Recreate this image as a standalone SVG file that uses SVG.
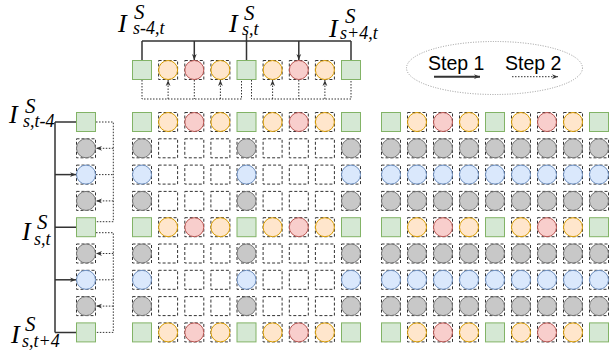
<svg xmlns="http://www.w3.org/2000/svg" xmlns:xlink="http://www.w3.org/1999/xlink" width="610" height="354" viewBox="0 0 610 354">
<style>
.g{fill:#d5e8d4;stroke:#82b366;stroke-width:1}
.o{fill:#ffe6cc;stroke:#d79b00;stroke-width:1}
.r{fill:#f8cecc;stroke:#b85450;stroke-width:1}
.b{fill:#dae8fc;stroke:#6c8ebf;stroke-width:1}
.k{fill:#c8c8c8;stroke:#777777;stroke-width:1}
.d{fill:none;stroke:#333333;stroke-width:1;stroke-dasharray:3 2}
.s{fill:none;stroke:#333333;stroke-width:1.5}
.t{fill:none;stroke:#333333;stroke-width:1;stroke-dasharray:1.5 1.5}
.lab{font-family:"Liberation Serif","Times New Roman",serif;font-style:italic;fill:#000}
.I{font-size:26px}
.S{font-size:21px}
.u{font-size:18px}
.lg{font-family:"Liberation Sans",Arial,sans-serif;font-size:19.5px;fill:#000}
</style>
<defs>
<marker id="a" viewBox="0 0 10 10" refX="10" refY="5" markerWidth="6" markerHeight="6" markerUnits="userSpaceOnUse" orient="auto"><path d="M0,1 L10,5 L0,9 L3,5 z" fill="#333333"/></marker>
<g id="G"><rect class="g" x="0.5" y="0.5" width="19" height="19"/></g>
<g id="O"><rect class="d" x="0.5" y="0.5" width="19" height="19"/><circle class="o" cx="10" cy="10" r="9.5"/></g>
<g id="R"><rect class="d" x="0.5" y="0.5" width="19" height="19"/><circle class="r" cx="10" cy="10" r="9.5"/></g>
<g id="B"><rect class="d" x="0.5" y="0.5" width="19" height="19"/><circle class="b" cx="10" cy="10" r="9.5"/></g>
<g id="K"><rect class="d" x="0.5" y="0.5" width="19" height="19"/><circle class="k" cx="10" cy="10" r="9.5"/></g>
<g id="E"><rect class="d" x="0.5" y="0.5" width="19" height="19"/></g>
</defs>
<rect width="610" height="354" fill="#ffffff"/>

<g id="connectors">
<path class="s" d="M142,41 H351 M142,41 V60 M246.5,34 V60 M351,41 V60"/>
<path class="s" d="M194.3,41 V60" marker-end="url(#a)"/>
<path class="s" d="M298.8,41 V60" marker-end="url(#a)"/>
<path class="t" d="M142,80 V99 H241.5 V80 M251.5,80 V99 H351 V80 M194.3,80 V99 M298.8,80 V99"/>
<path class="t" d="M168.1,99 V80" marker-end="url(#a)"/>
<path class="t" d="M220.4,99 V80" marker-end="url(#a)"/>
<path class="t" d="M272.6,99 V80" marker-end="url(#a)"/>
<path class="t" d="M324.9,99 V80" marker-end="url(#a)"/>
<path class="s" d="M55,122 V332.4 M55,122 H76 M55,227.2 H76 M55,332.4 H76"/>
<path class="s" d="M55,174.6 H76" marker-end="url(#a)"/>
<path class="s" d="M55,279.8 H76" marker-end="url(#a)"/>
<path class="t" d="M96,122 H113.3 V221.7 H96 M96,232.7 H113.3 V332.4 H96 M96,174.6 H113.3 M96,279.8 H113.3"/>
<path class="t" d="M113.3,148.3 H96" marker-end="url(#a)"/>
<path class="t" d="M113.3,200.9 H96" marker-end="url(#a)"/>
<path class="t" d="M113.3,253.5 H96" marker-end="url(#a)"/>
<path class="t" d="M113.3,306.1 H96" marker-end="url(#a)"/>
</g>

<g id="labels">
<text class="lab"><tspan class="I" x="118" y="32">I</tspan><tspan class="S" x="134" y="19">S</tspan><tspan class="u" x="133" y="34">s-4,t</tspan></text>
<text class="lab"><tspan class="I" x="229" y="32">I</tspan><tspan class="S" x="244" y="20">S</tspan><tspan class="u" x="242" y="35">s,t</tspan></text>
<text class="lab"><tspan class="I" x="329" y="37">I</tspan><tspan class="S" x="345" y="23">S</tspan><tspan class="u" x="340" y="39">s+4,t</tspan></text>
<text class="lab"><tspan class="I" x="9" y="123">I</tspan><tspan class="S" x="25" y="113">S</tspan><tspan class="u" x="23" y="127">s,t-4</tspan></text>
<text class="lab"><tspan class="I" x="22" y="240">I</tspan><tspan class="S" x="37" y="229">S</tspan><tspan class="u" x="34" y="245">s,t</tspan></text>
<text class="lab"><tspan class="I" x="11" y="343">I</tspan><tspan class="S" x="25" y="331">S</tspan><tspan class="u" x="22" y="347">s,t+4</tspan></text>
</g>

<g id="legend">
<ellipse cx="494.5" cy="68" rx="88" ry="26.5" fill="none" stroke="#999999" stroke-width="1" stroke-dasharray="1 1.5"/>
<text class="lg" x="428" y="69.5">Step 1</text>
<text class="lg" x="505" y="69.5">Step 2</text>
<path d="M434,76.7 H480" stroke="#333333" stroke-width="2" fill="none" marker-end="url(#a)"/>
<path d="M512,76.7 H558" class="t" marker-end="url(#a)"/>
</g>

<g id="top-row">
<g id="t0"><use xlink:href="#G" x="132" y="60"/></g>
<g id="t1"><use xlink:href="#O" x="158.1" y="60"/></g>
<g id="t2"><use xlink:href="#R" x="184.3" y="60"/></g>
<g id="t3"><use xlink:href="#O" x="210.4" y="60"/></g>
<g id="t4"><use xlink:href="#G" x="236.5" y="60"/></g>
<g id="t5"><use xlink:href="#O" x="262.6" y="60"/></g>
<g id="t6"><use xlink:href="#R" x="288.8" y="60"/></g>
<g id="t7"><use xlink:href="#O" x="314.9" y="60"/></g>
<g id="t8"><use xlink:href="#G" x="341" y="60"/></g>
</g>

<g id="left-col">
<g id="l0"><use xlink:href="#G" x="76" y="112"/></g>
<g id="l1"><use xlink:href="#K" x="76" y="138.3"/></g>
<g id="l2"><use xlink:href="#B" x="76" y="164.6"/></g>
<g id="l3"><use xlink:href="#K" x="76" y="190.9"/></g>
<g id="l4"><use xlink:href="#G" x="76" y="217.2"/></g>
<g id="l5"><use xlink:href="#K" x="76" y="243.5"/></g>
<g id="l6"><use xlink:href="#B" x="76" y="269.8"/></g>
<g id="l7"><use xlink:href="#K" x="76" y="296.1"/></g>
<g id="l8"><use xlink:href="#G" x="76" y="322.4"/></g>
</g>

<g id="mid-grid">
<g id="m00"><use xlink:href="#G" x="132" y="112"/></g><g id="m01"><use xlink:href="#O" x="158.1" y="112"/></g><g id="m02"><use xlink:href="#R" x="184.3" y="112"/></g><g id="m03"><use xlink:href="#O" x="210.4" y="112"/></g><g id="m04"><use xlink:href="#G" x="236.5" y="112"/></g><g id="m05"><use xlink:href="#O" x="262.6" y="112"/></g><g id="m06"><use xlink:href="#R" x="288.8" y="112"/></g><g id="m07"><use xlink:href="#O" x="314.9" y="112"/></g><g id="m08"><use xlink:href="#G" x="341" y="112"/></g>
<g id="m10"><use xlink:href="#K" x="132" y="138.3"/></g><g id="m11"><use xlink:href="#E" x="158.1" y="138.3"/></g><g id="m12"><use xlink:href="#E" x="184.3" y="138.3"/></g><g id="m13"><use xlink:href="#E" x="210.4" y="138.3"/></g><g id="m14"><use xlink:href="#K" x="236.5" y="138.3"/></g><g id="m15"><use xlink:href="#E" x="262.6" y="138.3"/></g><g id="m16"><use xlink:href="#E" x="288.8" y="138.3"/></g><g id="m17"><use xlink:href="#E" x="314.9" y="138.3"/></g><g id="m18"><use xlink:href="#K" x="341" y="138.3"/></g>
<g id="m20"><use xlink:href="#B" x="132" y="164.6"/></g><g id="m21"><use xlink:href="#E" x="158.1" y="164.6"/></g><g id="m22"><use xlink:href="#E" x="184.3" y="164.6"/></g><g id="m23"><use xlink:href="#E" x="210.4" y="164.6"/></g><g id="m24"><use xlink:href="#B" x="236.5" y="164.6"/></g><g id="m25"><use xlink:href="#E" x="262.6" y="164.6"/></g><g id="m26"><use xlink:href="#E" x="288.8" y="164.6"/></g><g id="m27"><use xlink:href="#E" x="314.9" y="164.6"/></g><g id="m28"><use xlink:href="#B" x="341" y="164.6"/></g>
<g id="m30"><use xlink:href="#K" x="132" y="190.9"/></g><g id="m31"><use xlink:href="#E" x="158.1" y="190.9"/></g><g id="m32"><use xlink:href="#E" x="184.3" y="190.9"/></g><g id="m33"><use xlink:href="#E" x="210.4" y="190.9"/></g><g id="m34"><use xlink:href="#K" x="236.5" y="190.9"/></g><g id="m35"><use xlink:href="#E" x="262.6" y="190.9"/></g><g id="m36"><use xlink:href="#E" x="288.8" y="190.9"/></g><g id="m37"><use xlink:href="#E" x="314.9" y="190.9"/></g><g id="m38"><use xlink:href="#K" x="341" y="190.9"/></g>
<g id="m40"><use xlink:href="#G" x="132" y="217.2"/></g><g id="m41"><use xlink:href="#O" x="158.1" y="217.2"/></g><g id="m42"><use xlink:href="#R" x="184.3" y="217.2"/></g><g id="m43"><use xlink:href="#O" x="210.4" y="217.2"/></g><g id="m44"><use xlink:href="#G" x="236.5" y="217.2"/></g><g id="m45"><use xlink:href="#O" x="262.6" y="217.2"/></g><g id="m46"><use xlink:href="#R" x="288.8" y="217.2"/></g><g id="m47"><use xlink:href="#O" x="314.9" y="217.2"/></g><g id="m48"><use xlink:href="#G" x="341" y="217.2"/></g>
<g id="m50"><use xlink:href="#K" x="132" y="243.5"/></g><g id="m51"><use xlink:href="#E" x="158.1" y="243.5"/></g><g id="m52"><use xlink:href="#E" x="184.3" y="243.5"/></g><g id="m53"><use xlink:href="#E" x="210.4" y="243.5"/></g><g id="m54"><use xlink:href="#K" x="236.5" y="243.5"/></g><g id="m55"><use xlink:href="#E" x="262.6" y="243.5"/></g><g id="m56"><use xlink:href="#E" x="288.8" y="243.5"/></g><g id="m57"><use xlink:href="#E" x="314.9" y="243.5"/></g><g id="m58"><use xlink:href="#K" x="341" y="243.5"/></g>
<g id="m60"><use xlink:href="#B" x="132" y="269.8"/></g><g id="m61"><use xlink:href="#E" x="158.1" y="269.8"/></g><g id="m62"><use xlink:href="#E" x="184.3" y="269.8"/></g><g id="m63"><use xlink:href="#E" x="210.4" y="269.8"/></g><g id="m64"><use xlink:href="#B" x="236.5" y="269.8"/></g><g id="m65"><use xlink:href="#E" x="262.6" y="269.8"/></g><g id="m66"><use xlink:href="#E" x="288.8" y="269.8"/></g><g id="m67"><use xlink:href="#E" x="314.9" y="269.8"/></g><g id="m68"><use xlink:href="#B" x="341" y="269.8"/></g>
<g id="m70"><use xlink:href="#K" x="132" y="296.1"/></g><g id="m71"><use xlink:href="#E" x="158.1" y="296.1"/></g><g id="m72"><use xlink:href="#E" x="184.3" y="296.1"/></g><g id="m73"><use xlink:href="#E" x="210.4" y="296.1"/></g><g id="m74"><use xlink:href="#K" x="236.5" y="296.1"/></g><g id="m75"><use xlink:href="#E" x="262.6" y="296.1"/></g><g id="m76"><use xlink:href="#E" x="288.8" y="296.1"/></g><g id="m77"><use xlink:href="#E" x="314.9" y="296.1"/></g><g id="m78"><use xlink:href="#K" x="341" y="296.1"/></g>
<g id="m80"><use xlink:href="#G" x="132" y="322.4"/></g><g id="m81"><use xlink:href="#O" x="158.1" y="322.4"/></g><g id="m82"><use xlink:href="#R" x="184.3" y="322.4"/></g><g id="m83"><use xlink:href="#O" x="210.4" y="322.4"/></g><g id="m84"><use xlink:href="#G" x="236.5" y="322.4"/></g><g id="m85"><use xlink:href="#O" x="262.6" y="322.4"/></g><g id="m86"><use xlink:href="#R" x="288.8" y="322.4"/></g><g id="m87"><use xlink:href="#O" x="314.9" y="322.4"/></g><g id="m88"><use xlink:href="#G" x="341" y="322.4"/></g>
</g>

<g id="right-grid">
<g id="r00"><use xlink:href="#G" x="381" y="112"/></g><g id="r01"><use xlink:href="#O" x="407" y="112"/></g><g id="r02"><use xlink:href="#R" x="433" y="112"/></g><g id="r03"><use xlink:href="#O" x="459" y="112"/></g><g id="r04"><use xlink:href="#G" x="485" y="112"/></g><g id="r05"><use xlink:href="#O" x="511" y="112"/></g><g id="r06"><use xlink:href="#R" x="537" y="112"/></g><g id="r07"><use xlink:href="#O" x="563" y="112"/></g><g id="r08"><use xlink:href="#G" x="589" y="112"/></g>
<g id="r10"><use xlink:href="#K" x="381" y="138.3"/></g><g id="r11"><use xlink:href="#K" x="407" y="138.3"/></g><g id="r12"><use xlink:href="#K" x="433" y="138.3"/></g><g id="r13"><use xlink:href="#K" x="459" y="138.3"/></g><g id="r14"><use xlink:href="#K" x="485" y="138.3"/></g><g id="r15"><use xlink:href="#K" x="511" y="138.3"/></g><g id="r16"><use xlink:href="#K" x="537" y="138.3"/></g><g id="r17"><use xlink:href="#K" x="563" y="138.3"/></g><g id="r18"><use xlink:href="#K" x="589" y="138.3"/></g>
<g id="r20"><use xlink:href="#B" x="381" y="164.6"/></g><g id="r21"><use xlink:href="#B" x="407" y="164.6"/></g><g id="r22"><use xlink:href="#B" x="433" y="164.6"/></g><g id="r23"><use xlink:href="#B" x="459" y="164.6"/></g><g id="r24"><use xlink:href="#B" x="485" y="164.6"/></g><g id="r25"><use xlink:href="#B" x="511" y="164.6"/></g><g id="r26"><use xlink:href="#B" x="537" y="164.6"/></g><g id="r27"><use xlink:href="#B" x="563" y="164.6"/></g><g id="r28"><use xlink:href="#B" x="589" y="164.6"/></g>
<g id="r30"><use xlink:href="#K" x="381" y="190.9"/></g><g id="r31"><use xlink:href="#K" x="407" y="190.9"/></g><g id="r32"><use xlink:href="#K" x="433" y="190.9"/></g><g id="r33"><use xlink:href="#K" x="459" y="190.9"/></g><g id="r34"><use xlink:href="#K" x="485" y="190.9"/></g><g id="r35"><use xlink:href="#K" x="511" y="190.9"/></g><g id="r36"><use xlink:href="#K" x="537" y="190.9"/></g><g id="r37"><use xlink:href="#K" x="563" y="190.9"/></g><g id="r38"><use xlink:href="#K" x="589" y="190.9"/></g>
<g id="r40"><use xlink:href="#G" x="381" y="217.2"/></g><g id="r41"><use xlink:href="#O" x="407" y="217.2"/></g><g id="r42"><use xlink:href="#R" x="433" y="217.2"/></g><g id="r43"><use xlink:href="#O" x="459" y="217.2"/></g><g id="r44"><use xlink:href="#G" x="485" y="217.2"/></g><g id="r45"><use xlink:href="#O" x="511" y="217.2"/></g><g id="r46"><use xlink:href="#R" x="537" y="217.2"/></g><g id="r47"><use xlink:href="#O" x="563" y="217.2"/></g><g id="r48"><use xlink:href="#G" x="589" y="217.2"/></g>
<g id="r50"><use xlink:href="#K" x="381" y="243.5"/></g><g id="r51"><use xlink:href="#K" x="407" y="243.5"/></g><g id="r52"><use xlink:href="#K" x="433" y="243.5"/></g><g id="r53"><use xlink:href="#K" x="459" y="243.5"/></g><g id="r54"><use xlink:href="#K" x="485" y="243.5"/></g><g id="r55"><use xlink:href="#K" x="511" y="243.5"/></g><g id="r56"><use xlink:href="#K" x="537" y="243.5"/></g><g id="r57"><use xlink:href="#K" x="563" y="243.5"/></g><g id="r58"><use xlink:href="#K" x="589" y="243.5"/></g>
<g id="r60"><use xlink:href="#B" x="381" y="269.8"/></g><g id="r61"><use xlink:href="#B" x="407" y="269.8"/></g><g id="r62"><use xlink:href="#B" x="433" y="269.8"/></g><g id="r63"><use xlink:href="#B" x="459" y="269.8"/></g><g id="r64"><use xlink:href="#B" x="485" y="269.8"/></g><g id="r65"><use xlink:href="#B" x="511" y="269.8"/></g><g id="r66"><use xlink:href="#B" x="537" y="269.8"/></g><g id="r67"><use xlink:href="#B" x="563" y="269.8"/></g><g id="r68"><use xlink:href="#B" x="589" y="269.8"/></g>
<g id="r70"><use xlink:href="#K" x="381" y="296.1"/></g><g id="r71"><use xlink:href="#K" x="407" y="296.1"/></g><g id="r72"><use xlink:href="#K" x="433" y="296.1"/></g><g id="r73"><use xlink:href="#K" x="459" y="296.1"/></g><g id="r74"><use xlink:href="#K" x="485" y="296.1"/></g><g id="r75"><use xlink:href="#K" x="511" y="296.1"/></g><g id="r76"><use xlink:href="#K" x="537" y="296.1"/></g><g id="r77"><use xlink:href="#K" x="563" y="296.1"/></g><g id="r78"><use xlink:href="#K" x="589" y="296.1"/></g>
<g id="r80"><use xlink:href="#G" x="381" y="322.4"/></g><g id="r81"><use xlink:href="#O" x="407" y="322.4"/></g><g id="r82"><use xlink:href="#R" x="433" y="322.4"/></g><g id="r83"><use xlink:href="#O" x="459" y="322.4"/></g><g id="r84"><use xlink:href="#G" x="485" y="322.4"/></g><g id="r85"><use xlink:href="#O" x="511" y="322.4"/></g><g id="r86"><use xlink:href="#R" x="537" y="322.4"/></g><g id="r87"><use xlink:href="#O" x="563" y="322.4"/></g><g id="r88"><use xlink:href="#G" x="589" y="322.4"/></g>
</g>
</svg>
